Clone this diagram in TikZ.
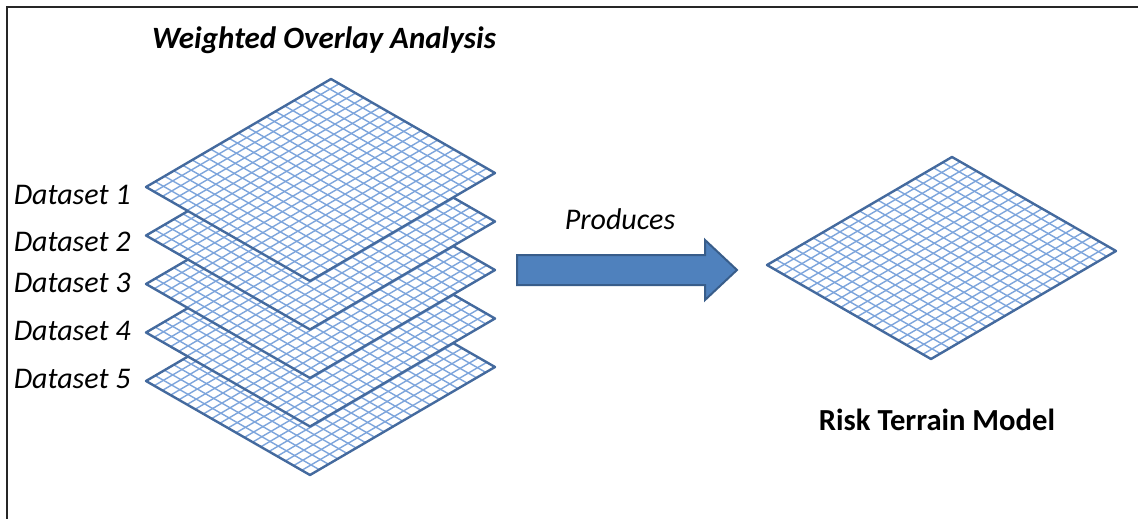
\documentclass[tikz,border=0pt]{standalone}
\usepackage{fontspec}
\setmainfont{Carlito}
\usepackage{tikz}

\definecolor{gridblue}{RGB}{125,165,220}
\definecolor{edgeblue}{RGB}{68,106,158}
\definecolor{arrowfill}{RGB}{79,129,189}
\definecolor{arrowedge}{RGB}{56,93,138}

\tikzset{
  gridline/.style={draw=gridblue, line width=0.7pt},
  sheetedge/.style={draw=edgeblue, line width=1.2pt, line join=round},
  dataset/.style={anchor=east, inner sep=0pt, font=\fontsize{15}{18}\selectfont\itshape},
  heading/.style={inner sep=0pt, font=\fontsize{15.3}{18}\selectfont\bfseries},
  pics/gridsheet/.style={code={
    \fill[white] (0,0) -- (185,-108) -- (349,-14) -- (164,94) -- cycle;
    \foreach \k in {1,...,19} {
      \draw[gridline] ({\k*185/20},{-\k*108/20}) -- ++(164,94);
      \draw[gridline] ({\k*164/20},{\k*94/20}) -- ++(185,-108);
    }
    \draw[sheetedge] (0,0) -- (185,-108) -- (349,-14) -- (164,94) -- cycle;
  }}
}

\begin{document}
\begin{tikzpicture}[x=0.5pt, y=-0.5pt]
        \useasboundingbox (0,0) rectangle (1138,519);
        \draw[line width=1.1pt, black!85] (1138,7) -- (7,7) -- (7,519);

        % stack of datasets, lowest first
        \foreach \i in {4,3,2,1,0}
            \pic at (146,{187+48.5*\i}) {gridsheet};
        \node[heading, font=\fontsize{15.5}{18}\selectfont\bfseries\itshape] (title) at (324,40) {Weighted Overlay Analysis};
        \node[dataset] (ds1) at (131,195) {Dataset 1};
        \node[dataset] (ds2) at (131,242) {Dataset 2};
        \node[dataset] (ds3) at (131,283) {Dataset 3};
        \node[dataset] (ds4) at (131,331) {Dataset 4};
        \node[dataset] (ds5) at (131,379) {Dataset 5};

        % block arrow
        \filldraw[fill=arrowfill, draw=arrowedge, line width=1pt, line join=miter]
            (517,255) -- (705,255) -- (705,240) -- (737,270) -- (705,300) -- (705,285) -- (517,285) -- cycle;
        \node[dataset, anchor=center] (produces) at (620,219) {Produces};

        % result
        \pic at (767,265) {gridsheet};
        \node[heading] (rtm) at (937,420) {Risk Terrain Model};
    \end{tikzpicture}
\end{document}
